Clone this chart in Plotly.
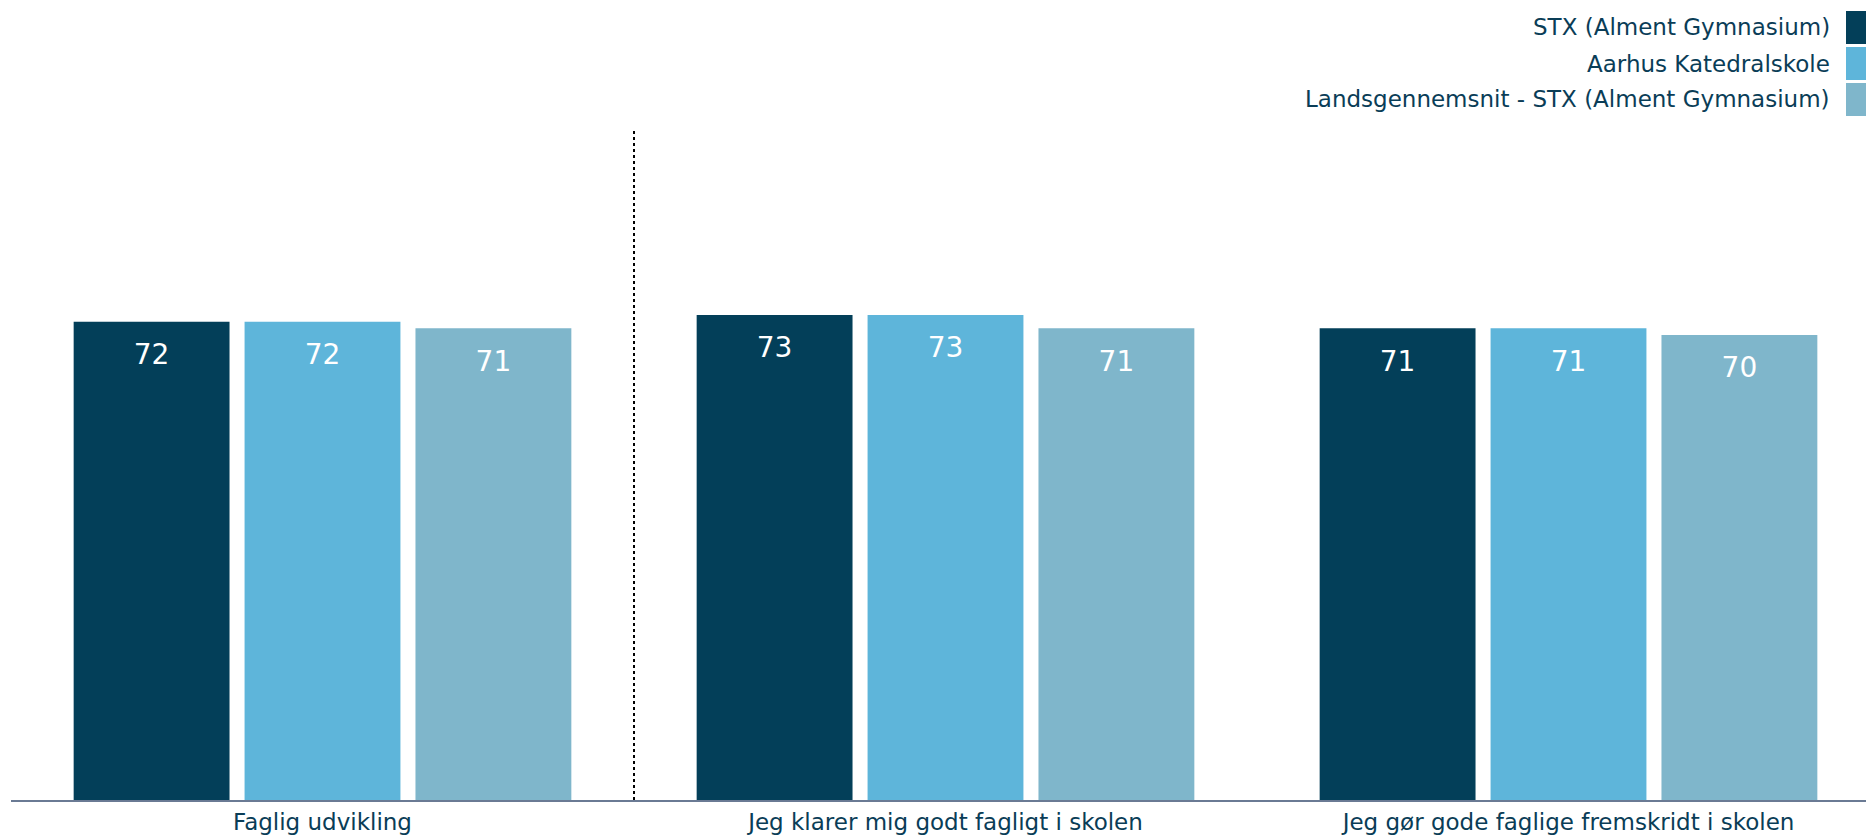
import plotly.graph_objects as go

categories = ["Faglig udvikling", "Jeg klarer mig godt fagligt i skolen", "Jeg gør gode faglige fremskridt i skolen"]
series_names = ["STX (Alment Gymnasium)", "Aarhus Katedralskole", "Landsgennemsnit - STX (Alment Gymnasium)"]
stx_values = [72, 73, 71]
aarhus_values = [72, 73, 71]
lands_values = [71, 71, 70]
colors = ["#033f59", "#5eb5da", "#7fb6cb"]

W, H = 1866, 840
ML, MR, MT, MB = 11, 0, 130, 40
PW, PH = W - ML - MR, H - MT - MB
TEXT = "#0a3d57"
FONT = "Tahoma, DejaVu Sans, sans-serif"

def px_x(x):
    return (x - ML) / PW

def px_y(y):
    return (H - MB - y) / PH

fig = go.Figure()
for name, vals, col in zip(series_names, [stx_values, aarhus_values, lands_values], colors):
    fig.add_trace(go.Bar(
        x=categories, y=vals, name=name, marker=dict(color=col, line=dict(width=0)),
        text=vals,
        texttemplate="<span style='font-size:3px'> </span><br>%{y}",
        textposition="inside", insidetextanchor="end", textangle=0,
        textfont=dict(family=FONT, size=28, color="white"),
        cliponaxis=False, hoverinfo="x+y+name",
    ))

# dotted separator between first and second category
fig.add_shape(type="line", xref="x", yref="paper", x0=0.5, x1=0.5, y0=0, y1=1,
              line=dict(color="black", width=2, dash="dot"))

# custom legend (text right-aligned, swatch on the right)
row_tops = [11, 47, 83]
sw_h = 33
for name, col, top in zip(series_names, colors, row_tops):
    fig.add_shape(type="rect", xref="paper", yref="paper",
                  x0=px_x(1846), x1=px_x(1870), y0=px_y(top + sw_h), y1=px_y(top),
                  fillcolor=col, line=dict(width=0), layer="above")
    fig.add_annotation(xref="paper", yref="paper", x=px_x(1832), y=px_y(top + sw_h / 2),
                       xanchor="right", yanchor="middle", text=name, showarrow=False,
                       font=dict(family=FONT, size=23, color=TEXT))

fig.update_layout(
    width=W, height=H, barmode="group", bargap=0.177, bargroupgap=0.088,
    margin=dict(l=ML, r=MR, t=MT, b=MB, autoexpand=False),
    paper_bgcolor="white", plot_bgcolor="white", showlegend=False,
    font=dict(family=FONT, color=TEXT),
    uniformtext=dict(mode=False),
)
fig.update_xaxes(range=[-0.5, -0.5 + PW / 623], showline=True, linecolor="#6a7a94", linewidth=2,
                 showgrid=False, zeroline=False, ticks="", tickfont=dict(family=FONT, size=23, color=TEXT))
fig.update_yaxes(range=[0, 100.85], visible=False, showgrid=False, zeroline=False)

fig.write_html("out.html", config={"displayModeBar": False},
               post_script="document.body.style.margin='0';document.body.style.overflow='hidden';")
